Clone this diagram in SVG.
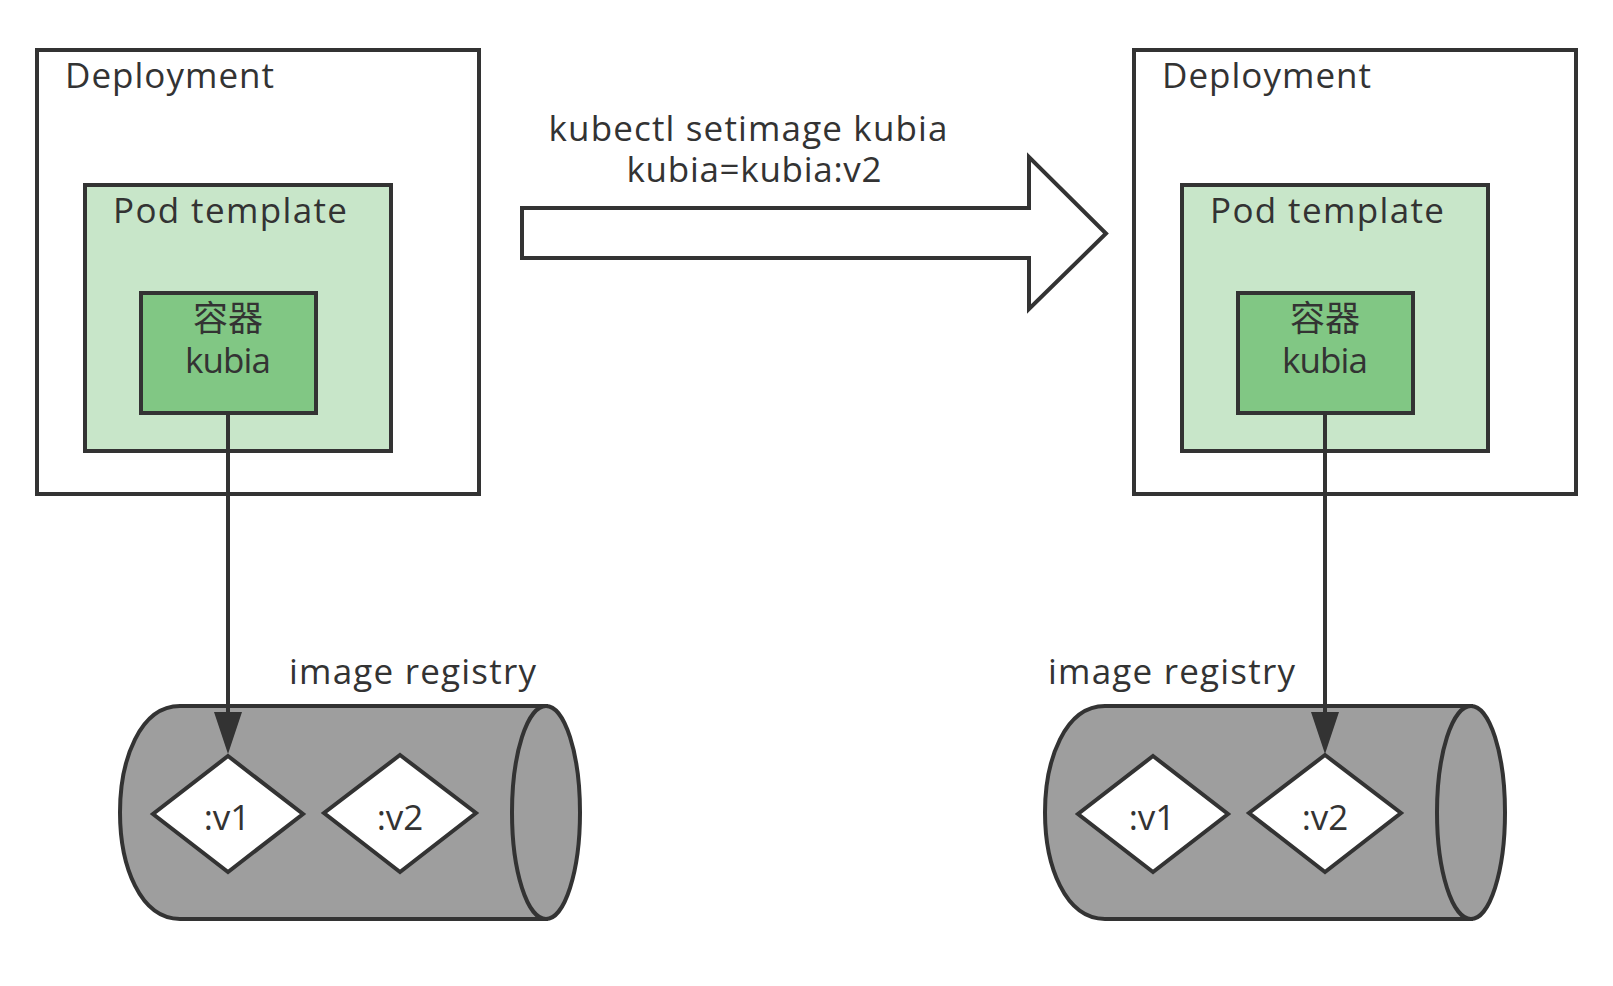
<svg xmlns="http://www.w3.org/2000/svg" width="1613" height="986" viewBox="0 0 1613 986">
<style>
.box{stroke:#333333;stroke-width:4;}
.dep{fill:#ffffff;}
.pod{fill:#c8e6c9;}
.ctr{fill:#81c784;}
.cyl{fill:#9e9e9e;stroke:#333333;stroke-width:4;}
.dia{fill:#ffffff;stroke:#333333;stroke-width:4;}
text{font-family:"Open Sans","Noto Sans","Noto Sans CJK SC",sans-serif;font-size:35px;fill:#333333;}
.mid{text-anchor:middle;}
.conn{stroke:#333333;stroke-width:4;fill:none;}
</style>
<defs>
<marker id="ah" markerUnits="userSpaceOnUse" viewBox="0 0 42 28" markerWidth="42" markerHeight="28" refX="28" refY="14" orient="auto">
<path d="M0,0 L42,14 L0,28 Z" fill="#333333"/>
</marker>
</defs>
<rect width="1613" height="986" fill="#ffffff"/>

<g id="deployment-left">
<rect class="box dep" x="37" y="50" width="442" height="444"/>
<text x="65" y="88" textLength="209" lengthAdjust="spacing">Deployment</text>
</g>
<g id="podtemplate-left">
<rect class="box pod" x="85" y="185" width="306" height="266"/>
<text x="113" y="223" textLength="234" lengthAdjust="spacing">Pod template</text>
</g>
<g id="container-left">
<rect class="box ctr" x="141" y="293" width="175" height="120"/>
<text class="mid" x="228" y="331">容器</text>
<text class="mid" x="228" y="373" textLength="86" lengthAdjust="spacing">kubia</text>
</g>

<g id="deployment-right">
<rect class="box dep" x="1134" y="50" width="442" height="444"/>
<text x="1162" y="88" textLength="209" lengthAdjust="spacing">Deployment</text>
</g>
<g id="podtemplate-right">
<rect class="box pod" x="1182" y="185" width="306" height="266"/>
<text x="1210" y="223" textLength="234" lengthAdjust="spacing">Pod template</text>
</g>
<g id="container-right">
<rect class="box ctr" x="1238" y="293" width="175" height="120"/>
<text class="mid" x="1325" y="331">容器</text>
<text class="mid" x="1325" y="373" textLength="86" lengthAdjust="spacing">kubia</text>
</g>

<g id="command-arrow">
<polygon points="522,208 1029,208 1029,157 1106,233.5 1029,309 1029,258 522,258" fill="#ffffff" stroke="#333333" stroke-width="4" stroke-linejoin="miter"/>
<text class="mid" x="748" y="141" textLength="399" lengthAdjust="spacing">kubectl setimage kubia</text>
<text class="mid" x="754" y="182" textLength="255" lengthAdjust="spacing">kubia=kubia:v2</text>
</g>

<g id="registry-left">
<text x="289" y="684" textLength="247" lengthAdjust="spacing">image registry</text>
<path class="cyl" d="M546,706 L180,706 C100,706 100,919 180,919 L546,919 Z"/>
<ellipse class="cyl" cx="546" cy="812.5" rx="34" ry="106.5"/>
</g>
<g id="v1-left">
<polygon class="dia" points="228,756 303,814 228,872 153,814"/>
<text class="mid" x="227" y="830">:v1</text>
</g>
<g id="v2-left">
<polygon class="dia" points="400,755 476,813 400,872 324,813"/>
<text class="mid" x="400" y="830">:v2</text>
</g>

<g id="registry-right">
<text x="1048" y="684" textLength="247" lengthAdjust="spacing">image registry</text>
<path class="cyl" d="M1471,706 L1105,706 C1025,706 1025,919 1105,919 L1471,919 Z"/>
<ellipse class="cyl" cx="1471" cy="812.5" rx="34" ry="106.5"/>
</g>
<g id="v1-right">
<polygon class="dia" points="1153,756 1228,814 1153,872 1078,814"/>
<text class="mid" x="1152" y="830">:v1</text>
</g>
<g id="v2-right">
<polygon class="dia" points="1325,755 1401,813 1325,872 1249,813"/>
<text class="mid" x="1325" y="830">:v2</text>
</g>

<g id="connectors">
<line class="conn" x1="228" y1="413" x2="228" y2="740" marker-end="url(#ah)"/>
<line class="conn" x1="1325" y1="413" x2="1325" y2="740" marker-end="url(#ah)"/>
</g>
</svg>
